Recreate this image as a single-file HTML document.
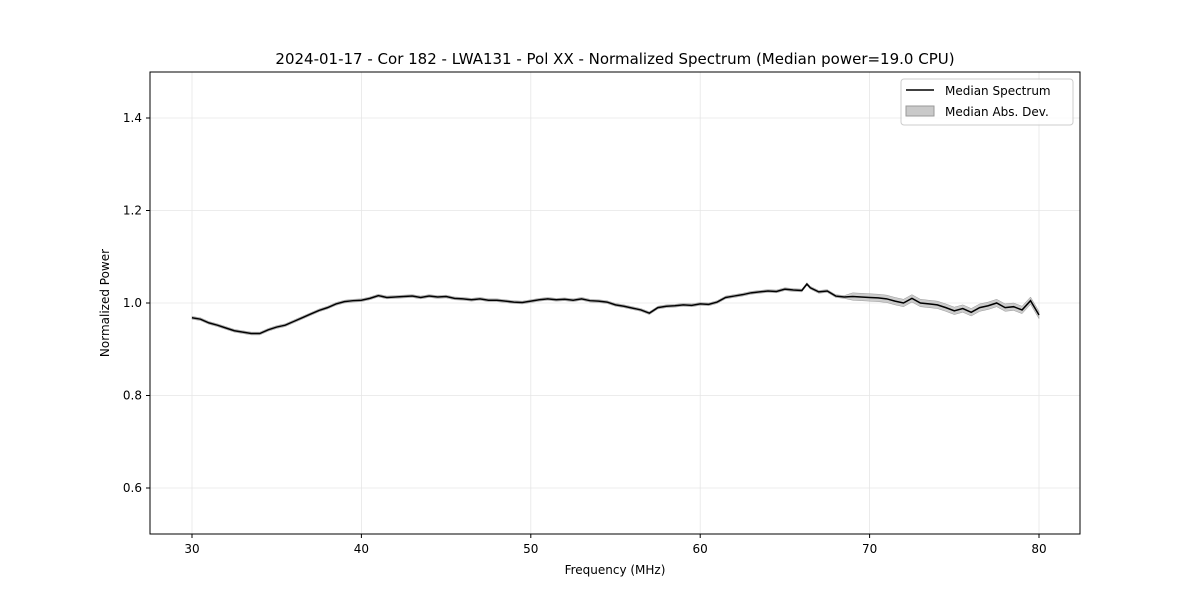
<!DOCTYPE html>
<html><head><meta charset="utf-8"><style>
body{margin:0;background:#fff;font-family:"Liberation Sans","DejaVu Sans",sans-serif}
</style></head><body>
<svg id="chart" width="1200" height="600" xmlns="http://www.w3.org/2000/svg" font-family="DejaVu Sans, Liberation Sans, sans-serif">
<rect width="1200" height="600" fill="#fff"/>
<text x="615" y="64" text-anchor="middle" font-size="15">2024-01-17 - Cor 182 - LWA131 - Pol XX - Normalized Spectrum (Median power=19.0 CPU)</text>
<g id="grid"></g>
<g id="band"></g>
<g id="line"></g>
<rect x="150" y="72" width="930" height="462" fill="none" stroke="#000" stroke-width="1"/>
<g id="ticks" font-size="12"></g>
<text x="615" y="574" text-anchor="middle" font-size="12">Frequency (MHz)</text>
<text transform="translate(109,303) rotate(-90)" text-anchor="middle" font-size="12">Normalized Power</text>
<g>
<rect x="901" y="79" width="172" height="46" rx="3" fill="#fff" fill-opacity="0.8" stroke="#ccc"/>
<line x1="906" y1="90" x2="934" y2="90" stroke="#000" stroke-width="1.5"/>
<text x="945" y="95" font-size="12">Median Spectrum</text>
<rect x="906" y="106" width="28" height="10" fill="#bbb" fill-opacity="0.8" stroke="#999"/>
<text x="945" y="116" font-size="12">Median Abs. Dev.</text>
</g>
</svg>
<script>
const freqs=[30,30.5,31,31.5,32,32.5,33,33.5,34,34.5,35,35.5,36,36.5,37,37.5,38,38.5,39,39.5,40,40.5,41,41.5,42,42.5,43,43.5,44,44.5,45,45.5,46,46.5,47,47.5,48,48.5,49,49.5,50,50.5,51,51.5,52,52.5,53,53.5,54,54.5,55,55.5,56,56.5,57,57.5,58,58.5,59,59.5,60,60.5,61,61.5,62,62.5,63,63.5,64,64.5,65,65.5,66,66.3,66.5,67,67.5,68,68.5,69,69.5,70,70.5,71,71.5,72,72.5,73,73.5,74,74.5,75,75.5,76,76.5,77,77.5,78,78.5,79,79.5,80];
const power=[0.968,0.965,0.957,0.952,0.946,0.940,0.937,0.934,0.934,0.942,0.948,0.952,0.960,0.968,0.976,0.984,0.990,0.998,1.003,1.005,1.006,1.010,1.016,1.012,1.013,1.014,1.015,1.012,1.015,1.013,1.014,1.010,1.009,1.007,1.009,1.006,1.006,1.004,1.002,1.001,1.004,1.007,1.009,1.007,1.008,1.006,1.009,1.005,1.004,1.002,0.996,0.993,0.989,0.985,0.978,0.990,0.993,0.994,0.996,0.995,0.998,0.997,1.002,1.012,1.015,1.018,1.022,1.024,1.026,1.025,1.030,1.028,1.027,1.041,1.033,1.024,1.026,1.015,1.013,1.014,1.013,1.012,1.011,1.009,1.004,1.000,1.010,1.000,0.998,0.996,0.990,0.983,0.988,0.980,0.990,0.994,1.000,0.990,0.992,0.985,1.005,0.974];
const mad=power.map((p,i)=>freqs[i]<69?0.003:0.008);
const xTicks=[30,40,50,60,70,80];
const yTicks=[0.6,0.8,1.0,1.2,1.4];
const X=f=>192+(f-30)*16.94;
const Y=v=>303-(v-1)*462.5;
const NS="http://www.w3.org/2000/svg";
function mk(t,a,p){const e=document.createElementNS(NS,t);for(const k in a)e.setAttribute(k,a[k]);p.appendChild(e);return e;}
const grid=document.getElementById('grid'),ticks=document.getElementById('ticks');
xTicks.forEach(t=>{const x=X(t);
const g=mk('line',{x1:x,x2:x,y1:72,y2:534,stroke:'#e6e6e6','stroke-width':0.8},grid);


mk('line',{x1:x,x2:x,y1:534,y2:538,stroke:'#000'},ticks);
const l=mk('text',{x:x,y:553,'text-anchor':'middle'},ticks);l.textContent=t;

});
yTicks.forEach(t=>{const y=Y(t);
const g=mk('line',{x1:150,x2:1080,y1:y,y2:y,stroke:'#e6e6e6','stroke-width':0.8},grid);


mk('line',{x1:146,x2:150,y1:y,y2:y,stroke:'#000'},ticks);
const l=mk('text',{x:142,y:y+4,'text-anchor':'end'},ticks);l.textContent=t.toFixed(1);

});
let up=freqs.map((f,i)=>X(f)+','+Y(power[i]+mad[i])),dn=freqs.map((f,i)=>X(f)+','+Y(power[i]-mad[i])).reverse();
const b=mk('polygon',{points:up.concat(dn).join(' '),fill:'#aaa','fill-opacity':0.6,stroke:'#999','stroke-width':0.5},document.getElementById('band'));


const ln=mk('polyline',{points:freqs.map((f,i)=>X(f)+','+Y(power[i])).join(' '),fill:'none',stroke:'#000','stroke-width':1.5},document.getElementById('line'));


</script>
</body></html>
